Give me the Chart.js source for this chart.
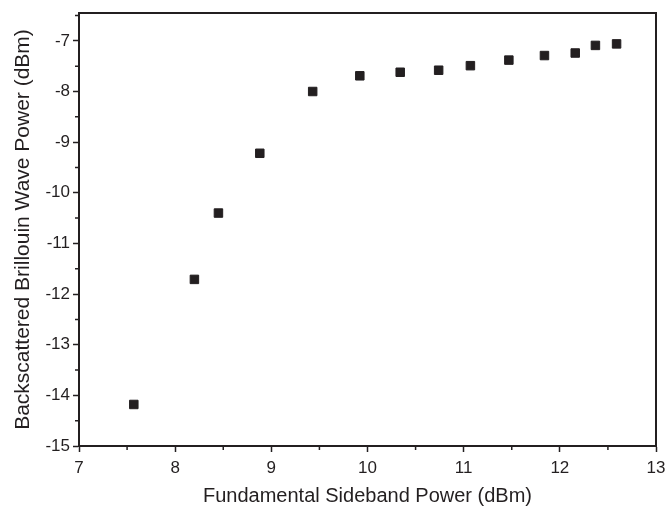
<!DOCTYPE html>
<html>
<head>
<meta charset="utf-8">
<script src="https://cdn.jsdelivr.net/npm/chart.js@4"></script>
<style>
  body { margin: 0; background: #fff; }
</style>
</head>
<body>
<canvas id="chart" width="666" height="509"></canvas>
<script>
// data
const sidebandPower = [7.57, 8.20, 8.45, 8.88, 9.43, 9.92, 10.34, 10.74, 11.07, 11.47, 11.84, 12.16, 12.37, 12.59];
const brillouinPower = [-14.18, -11.71, -10.40, -9.22, -8.00, -7.69, -7.62, -7.58, -7.49, -7.38, -7.29, -7.24, -7.09, -7.06];
const xTicks = [7, 8, 9, 10, 11, 12, 13];
const yTicks = [-15, -14, -13, -12, -11, -10, -9, -8, -7];

const ink = "#231f20";

// frame on top/right + short minor ticks between the labelled ones
const framePlugin = {
  id: "frame",
  afterDraw(chart) {
    const { ctx, chartArea: a, scales } = chart;
    ctx.save();
    ctx.strokeStyle = ink;
    ctx.lineWidth = 2;
    ctx.beginPath();
    ctx.moveTo(a.left, a.top);
    ctx.lineTo(a.right, a.top);
    ctx.lineTo(a.right, a.bottom);
    ctx.stroke();

    ctx.lineWidth = 1.5;
    ctx.beginPath();
    for (let i = 0; i < xTicks.length - 1; i++) {
      const px = scales.x.getPixelForValue(xTicks[i] + 0.5);
      ctx.moveTo(px, a.bottom);
      ctx.lineTo(px, a.bottom + 4);
    }
    for (let i = 0; i < yTicks.length; i++) {
      const py = scales.y.getPixelForValue(yTicks[i] + 0.5);
      ctx.moveTo(a.left, py);
      ctx.lineTo(a.left - 4, py);
    }
    ctx.stroke();
    ctx.restore();
  }
};

new Chart(document.getElementById("chart"), {
  type: "scatter",
  data: {
    datasets: [{
      data: sidebandPower.map((x, i) => ({ x: x, y: brillouinPower[i] })),
      pointStyle: "rect",
      pointRadius: 6,
      borderWidth: 1,
      backgroundColor: ink,
      borderColor: ink
    }]
  },
  options: {
    responsive: false,
    animation: false,
    layout: { padding: { top: 13, right: 10, left: 4, bottom: 0 } },
    plugins: {
      legend: { display: false },
      tooltip: { enabled: false }
    },
    scales: {
      x: {
        type: "linear",
        min: 7,
        max: 13,
        afterFit: scale => {
          scale.height = 63;
          scale.paddingRight = 0;
          scale.paddingLeft = 0;
        },
        afterBuildTicks: scale => { scale.ticks = xTicks.map(v => ({ value: v })); },
        ticks: {
          color: ink,
          padding: 6,
          font: { family: "Liberation Sans", size: 17 }
        },
        grid: { drawOnChartArea: false, tickLength: 6, tickColor: ink, tickWidth: 1.5 },
        border: { color: ink, width: 2 },
        title: {
          display: true,
          text: "Fundamental Sideband Power (dBm)",
          color: ink,
          padding: { top: 0, bottom: 1 },
          font: { family: "Liberation Sans", size: 20 }
        }
      },
      y: {
        type: "linear",
        min: -15,
        max: -6.45,
        afterFit: scale => {
          scale.width = 75;
          scale.paddingTop = 0;
          scale.paddingBottom = 0;
        },
        afterBuildTicks: scale => { scale.ticks = yTicks.map(v => ({ value: v })); },
        ticks: {
          color: ink,
          padding: 3,
          font: { family: "Liberation Sans", size: 17 }
        },
        grid: { drawOnChartArea: false, tickLength: 6, tickColor: ink, tickWidth: 1.5 },
        border: { color: ink, width: 2 },
        title: {
          display: true,
          text: "Backscattered Brillouin Wave Power (dBm)",
          color: ink,
          padding: { top: 7, bottom: 0 },
          font: { family: "Liberation Sans", size: 21 }
        }
      }
    }
  },
  plugins: [framePlugin]
});
</script>
</body>
</html>
